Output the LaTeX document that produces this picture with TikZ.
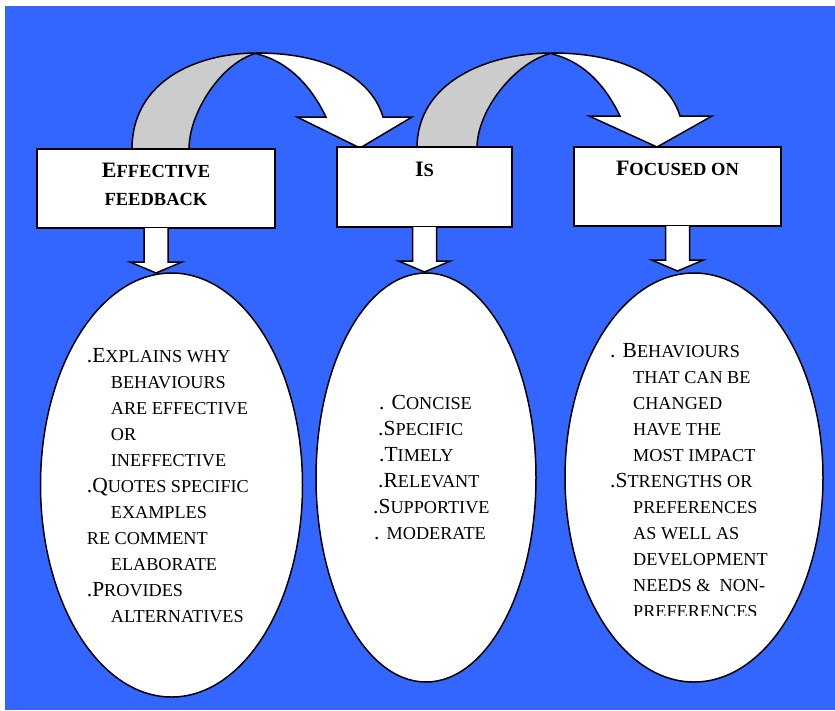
\documentclass[tikz,border=0pt]{standalone}
\usepackage{fontspec}
\setmainfont{Liberation Serif}
\usetikzlibrary{shapes.geometric,calc}
\definecolor{bgblue}{RGB}{51,102,255}
\definecolor{backgray}{RGB}{204,204,204}
% reduced capitals used for the small-caps lettering
\newcommand\sm[1]{{\fontsize{18.2}{20}\selectfont #1}}
\newcommand\smb[1]{{\fontsize{18.5}{20}\selectfont #1}}

\begin{document}
\begin{tikzpicture}[x=1pt,y=-1pt,
  outline/.style={draw=black, line width=1.5pt, line join=miter},
  box/.style={outline, fill=white, rectangle, inner sep=0pt, outer sep=0pt},
  bubble/.style={outline, fill=white, ellipse, inner sep=0pt, outer sep=0pt},
  heading/.style={font=\bfseries\fontsize{22}{26}\selectfont, inner sep=0pt, anchor=base},
  item/.style={font=\fontsize{21.5}{26}\selectfont, inner sep=0pt, anchor=base west},
  downarrow/.pic={\path[outline, fill=white] (-12,0) -- (-12,34) -- (-26,34) -- (0,45) -- (26,34) -- (12,34) -- (12,0);}
]
\useasboundingbox (0,0) rectangle (835,710);
\fill[bgblue] (5,6) rectangle (835,710);

% curved ribbon arrow: box 1 -> box 2
\path[outline, fill=backgray] (132,149) .. controls (132,82) and (195,53) .. (257,53)
  .. controls (222,62) and (189,112) .. (189,149) -- cycle;
\path[outline, fill=white] (257,53) .. controls (330,53) and (372,80) .. (383,117)
  -- (412,117) -- (360,148) -- (297,117) -- (326,117)
  .. controls (312,88) and (290,62) .. (257,54) -- cycle;

% curved ribbon arrow: box 2 -> box 3
\path[outline, fill=backgray] (417,148) .. controls (417,82) and (487,53) .. (552,53)
  .. controls (515,62) and (477,110) .. (477,148) -- cycle;
\path[outline, fill=white] (552,53) .. controls (627,53) and (669,80) .. (680,116)
  -- (712,116) -- (657,147) -- (589,116) -- (620,116)
  .. controls (606,87) and (585,62) .. (552,54) -- cycle;

% boxes
\node[box, minimum width=238pt, minimum height=79pt] (b1) at (156,188.5) {};
\node[box, minimum width=175pt, minimum height=80pt] (b2) at (424.5,187) {};
\node[box, minimum width=207pt, minimum height=79pt] (b3) at (677.5,186.5) {};

\node[heading] (h1a) at (156,177.7) {E\smb{FFECTIVE}};
\node[heading] (h1b) at (156,205) {\smb{FEEDBACK}};
\node[heading] (h2) at (424.5,176.7) {I\smb{S}};
\node[heading] (h3) at (677.5,175.7) {F\smb{OCUSED ON}};

% short block arrows down to the ellipses
\pic at (b1.south) {downarrow};
\pic at (b2.south) {downarrow};
\pic at (b3.south) {downarrow};

% ellipses
\node[bubble, minimum width=262pt, minimum height=424pt] (e1) at (171.5,485) {};
\node[bubble, minimum width=220pt, minimum height=409pt] (e2) at (426,477.5) {};
\node[bubble, minimum width=258pt, minimum height=409pt] (e3) at (694,477.5) {};

% left ellipse text
\node[item] (l1)  at (86.7,362.7) {.E\sm{XPLAINS WHY}};
\node[item] (l2)  at (110.7,388.7) {\sm{BEHAVIOURS}};
\node[item] (l3)  at (110.7,414.7) {\sm{ARE EFFECTIVE}};
\node[item] (l4)  at (110.7,440.7) {\sm{OR}};
\node[item] (l5)  at (110.7,466.7) {\sm{INEFFECTIVE}};
\node[item] (l6)  at (86.7,492.7) {.Q\sm{UOTES SPECIFIC}};
\node[item] (l7)  at (110.7,518.7) {\sm{EXAMPLES}};
\node[item] (l8)  at (86.7,544.7) {\sm{RE COMMENT}};
\node[item] (l9)  at (110.7,570.7) {\sm{ELABORATE}};
\node[item] (l10) at (86.7,596.7) {.P\sm{ROVIDES}};
\node[item] (l11) at (110.7,622.7) {\sm{ALTERNATIVES}};

% middle ellipse text
\node[item] (m1) at (379,409) {. C\sm{ONCISE}};
\node[item] (m2) at (378,435) {.S\sm{PECIFIC}};
\node[item] (m3) at (379,461) {.T\sm{IMELY}};
\node[item] (m4) at (378,487) {.R\sm{ELEVANT}};
\node[item] (m5) at (373,513) {.S\sm{UPPORTIVE}};
\node[item] (m6) at (374,539) {. \sm{MODERATE}};

% right ellipse text
\node[item] (r1)  at (610,357) {. B\sm{EHAVIOURS}};
\node[item] (r2)  at (633,383) {\sm{THAT CAN BE}};
\node[item] (r3)  at (633,409) {\sm{CHANGED}};
\node[item] (r4)  at (633,435) {\sm{HAVE THE}};
\node[item] (r5)  at (633,461) {\sm{MOST IMPACT}};
\node[item] (r6)  at (610,487) {.S\sm{TRENGTHS OR}};
\node[item] (r7)  at (633,513) {\sm{PREFERENCES}};
\node[item] (r8)  at (633,539) {\sm{AS WELL AS}};
\node[item] (r9)  at (633,565) {\sm{DEVELOPMENT}};
\node[item] (r10) at (633,591) {\sm{NEEDS \&\ \ NON-}};
\begin{scope}
  \clip (600,590) rectangle (800,615);
  \node[item] (r11) at (633,617) {\sm{PREFERENCES}};
\end{scope}
\end{tikzpicture}
\end{document}
